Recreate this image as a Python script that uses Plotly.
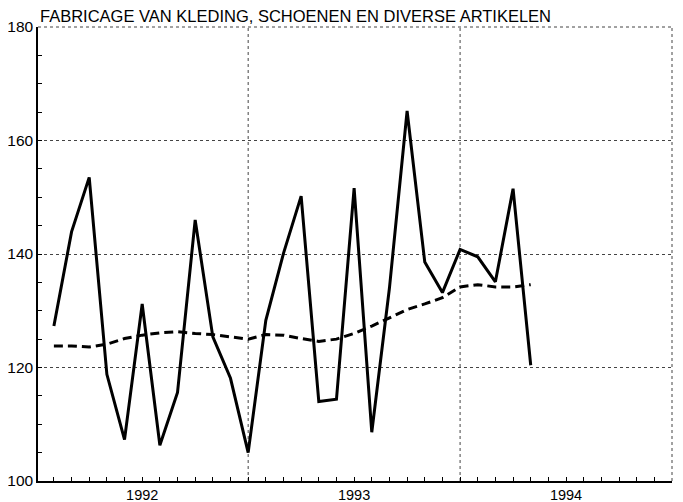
import plotly.graph_objects as go

TITLE = "FABRICAGE VAN KLEDING, SCHOENEN EN DIVERSE ARTIKELEN"

# month index: 1 = Jan 1992 ... 28 = Apr 1994
MONTHS = list(range(1, 29))

INDEX = [127.3, 143.9, 153.5, 118.8, 107.3, 131.2, 106.3, 115.6, 146.0, 125.4, 118.1, 105.0,
         128.3, 140.1, 150.2, 114.0, 114.4, 151.6, 108.6, 134.0, 165.2, 138.6, 133.2, 140.8,
         139.5, 135.1, 151.5, 120.4]

TREND = [123.8, 123.8, 123.6, 124.1, 125.1, 125.7, 126.1, 126.3, 126.0, 125.8, 125.4, 125.0,
         125.8, 125.7, 125.1, 124.6, 125.0, 126.0, 127.3, 128.8, 130.2, 131.2, 132.3, 134.2,
         134.6, 134.2, 134.2, 134.6]

YEAR_LABELS = ["1992", "1993", "1994"]
YEAR_CENTERS = [6, 18, 30]
YEAR_BOUNDARIES = [12, 24]

FONT = "Liberation Sans, Arial, Helvetica, sans-serif"
GRID = "#444444"

fig = go.Figure()
fig.add_trace(go.Scatter(x=MONTHS, y=TREND, mode="lines",
                         line=dict(color="black", width=3, dash="9px,5px"),
                         hoverinfo="skip", showlegend=False))
fig.add_trace(go.Scatter(x=MONTHS, y=INDEX, mode="lines",
                         line=dict(color="black", width=3),
                         hoverinfo="skip", showlegend=False))

shapes = []
for b in YEAR_BOUNDARIES:
    shapes.append(dict(type="line", xref="x", yref="paper", x0=b, x1=b, y0=0, y1=1,
                       line=dict(color=GRID, width=1, dash="dot"), layer="below"))
# top and right frame (dotted)
shapes.append(dict(type="line", xref="paper", yref="paper", x0=0, x1=1, y0=1, y1=1,
                   line=dict(color=GRID, width=1, dash="dot"), layer="below"))
shapes.append(dict(type="line", xref="paper", yref="paper", x0=1, x1=1, y0=0, y1=1,
                   line=dict(color=GRID, width=1, dash="dot"), layer="below"))

fig.update_layout(
    width=675, height=494, autosize=False,
    margin=dict(l=30, r=11, t=19, b=21),
    paper_bgcolor="white", plot_bgcolor="white",
    font=dict(family=FONT, color="black", size=15),
    shapes=shapes,
    annotations=[dict(text=TITLE, xref="paper", yref="paper", x=0, y=1,
                      xanchor="left", yanchor="bottom", showarrow=False,
                      font=dict(family=FONT, size=16.5, color="black"))],
    xaxis=dict(range=[0.1, 36], tickmode="array", tickvals=YEAR_CENTERS, ticktext=YEAR_LABELS,
               ticks="inside", ticklen=4, tickwidth=1.2, tickcolor="black",
               minor=dict(dtick=1, tick0=0, ticks="inside", ticklen=4, tickwidth=1.2,
                          tickcolor="black", showgrid=False),
               showgrid=False, zeroline=False, showline=True, linecolor="black", linewidth=1.5,
               tickfont=dict(size=14.5), automargin=False),
    yaxis=dict(range=[100, 180], tick0=100, dtick=20,
               ticks="inside", ticklen=4, tickwidth=1.2, tickcolor="black",
               minor=dict(dtick=5, tick0=100, ticks="inside", ticklen=4, tickwidth=1.2,
                          tickcolor="black", showgrid=False),
               showgrid=True, gridcolor=GRID, gridwidth=1, griddash="dot",
               zeroline=False, showline=True, linecolor="black", linewidth=1.5,
               tickfont=dict(size=15.5), automargin=False),
)

fig.write_html("out.html")
